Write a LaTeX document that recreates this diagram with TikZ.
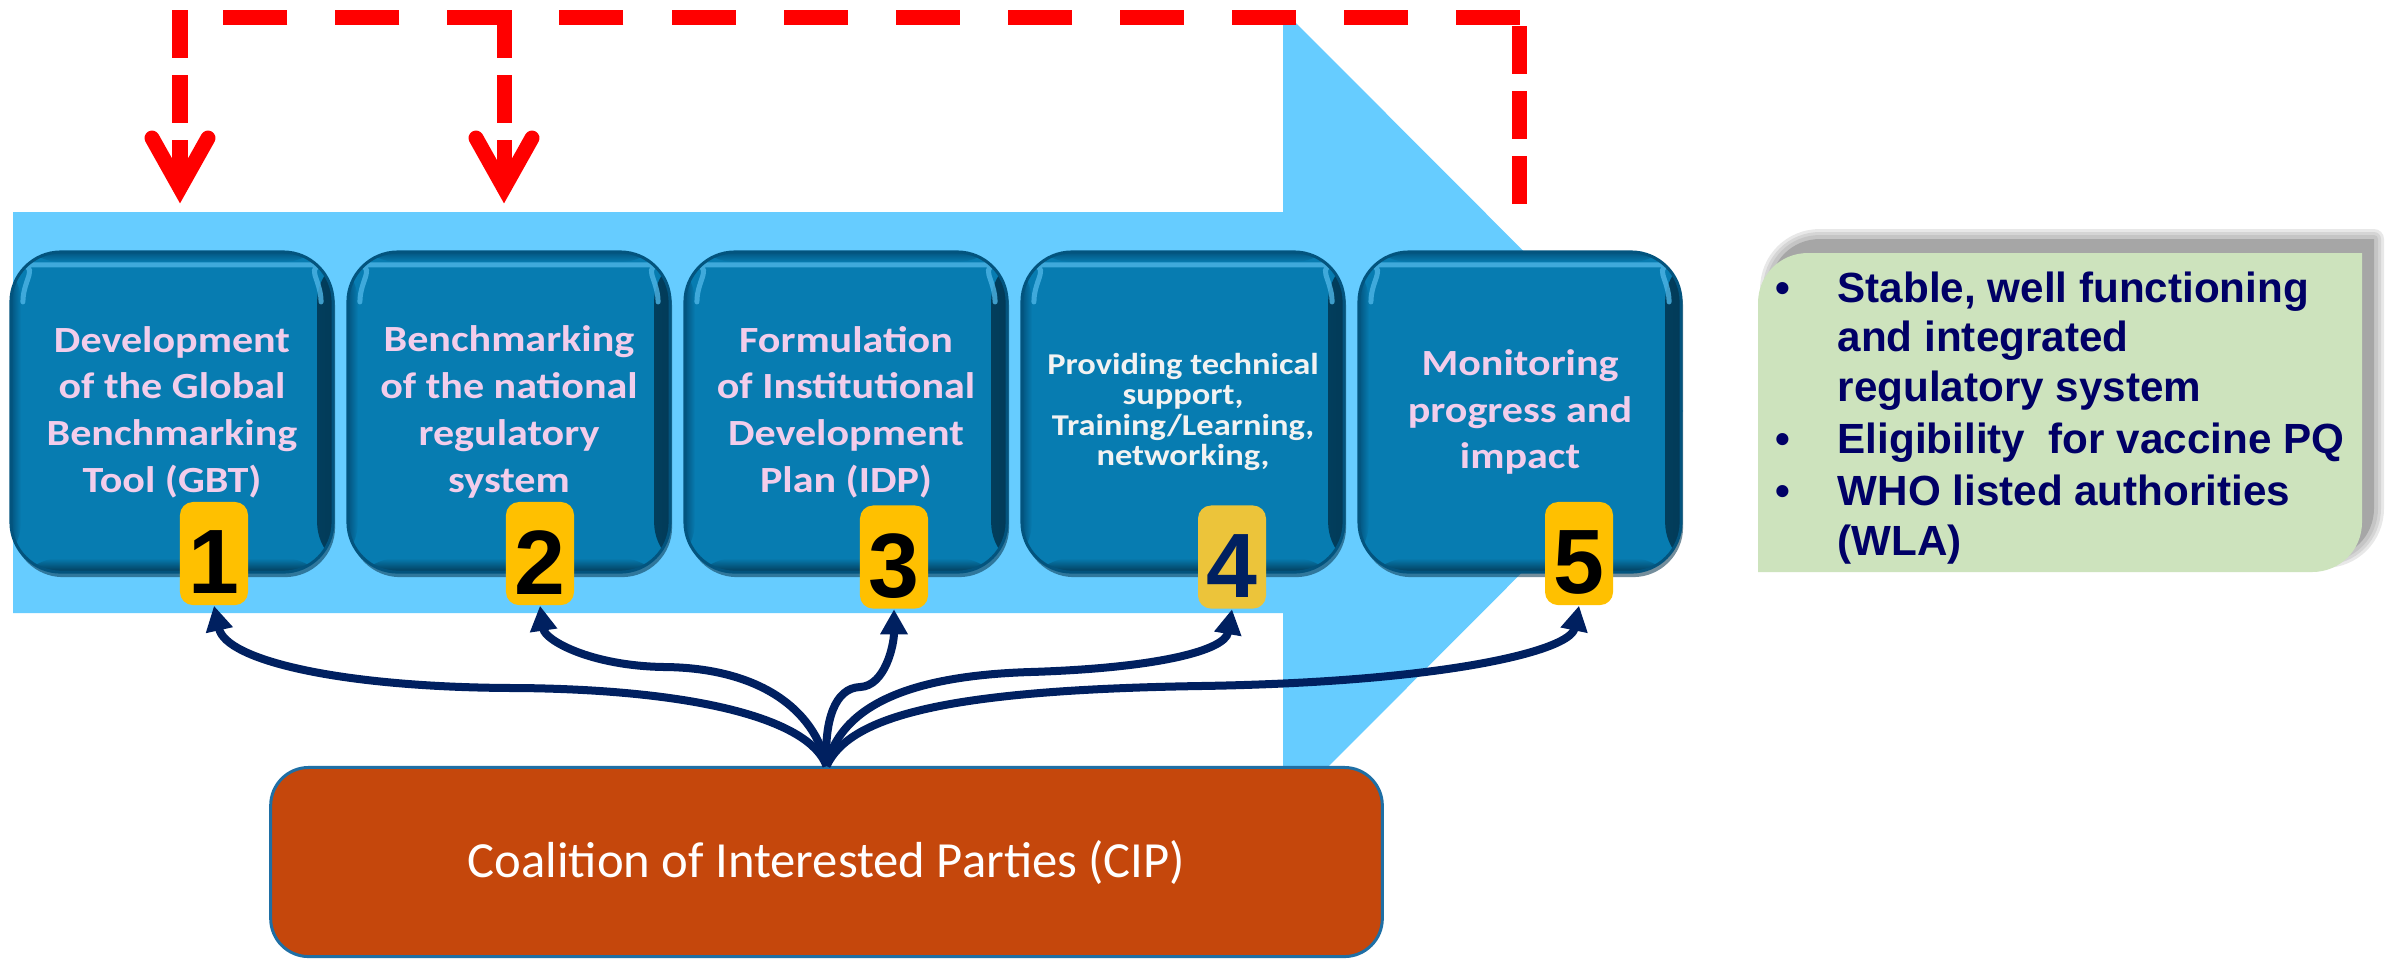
\documentclass[tikz,border=0pt]{standalone}
\usepackage{fontspec}
\setmainfont{Carlito}
\newfontfamily\panelfont[FakeStretch=1.14]{Carlito}
\newfontfamily\arialfont{Liberation Sans}
\usetikzlibrary{arrows.meta,calc}

\definecolor{flowblue}{HTML}{66CCFF}
\definecolor{tealmain}{HTML}{077CB1}
\definecolor{tealdark}{HTML}{03547E}
\definecolor{tealglow}{HTML}{4DB5E6}
\definecolor{pinktext}{HTML}{F2CDEB}
\definecolor{greytext}{HTML}{F2F2F2}
\definecolor{badgegold}{HTML}{FFC000}
\definecolor{badgemustard}{HTML}{ECC43A}
\definecolor{navy}{HTML}{002060}
\definecolor{cipfill}{HTML}{C5470C}
\definecolor{cipedge}{HTML}{1F6FA5}
\definecolor{greenfill}{HTML}{CDE3BD}
\definecolor{listnavy}{HTML}{000066}
\definecolor{alertred}{HTML}{FF0000}

\begin{document}
\begin{tikzpicture}[
  x=0.01cm, y=-0.01cm,
  redline/.style={draw=alertred, line width=0.15cm},
  longdash/.style={dash pattern=on 0.64cm off 0.48cm},
  shortdash/.style={dash pattern=on 0.48cm off 0.17cm},
  panel/.style={rectangle, rounded corners=0.5cm, minimum width=3.22cm, minimum height=3.2cm,
    inner sep=0pt, fill=tealmain, draw=tealdark, line width=0.03cm, align=center, text=pinktext,
    font=\panelfont\bfseries\fontsize{10.5pt}{13.3pt}\selectfont,
    preaction={fill=tealdark!60!black, opacity=0.55, transform canvas={shift={(0.02cm,-0.05cm)}}},
    path picture={
      \shade[left color=tealmain, right color=tealdark!70!black]
        ([xshift=-0.16cm]path picture bounding box.north east) rectangle (path picture bounding box.south east);
      \shade[left color=tealdark, right color=tealmain]
        (path picture bounding box.north west) rectangle ([xshift=0.1cm]path picture bounding box.south west);
      \shade[top color=tealmain, bottom color=tealdark!70!black]
        ([yshift=0.14cm]path picture bounding box.south west) rectangle (path picture bounding box.south east);
      \shade[top color=tealdark, bottom color=tealmain]
        (path picture bounding box.north west) rectangle ([yshift=-0.1cm]path picture bounding box.north east);
      \draw[tealglow, line width=0.05cm, opacity=0.8, line cap=round]
        ([xshift=0.12cm, yshift=-0.5cm]path picture bounding box.north west)
        .. controls ([xshift=0.12cm, yshift=-0.26cm]path picture bounding box.north west)
           and ([xshift=0.31cm, yshift=-0.13cm]path picture bounding box.north west)
        .. ([xshift=0.55cm, yshift=-0.13cm]path picture bounding box.north west)
        -- ([xshift=-0.55cm, yshift=-0.13cm]path picture bounding box.north east)
        .. controls ([xshift=-0.31cm, yshift=-0.13cm]path picture bounding box.north east)
           and ([xshift=-0.12cm, yshift=-0.26cm]path picture bounding box.north east)
        .. ([xshift=-0.12cm, yshift=-0.5cm]path picture bounding box.north east);
    }},
  smallpanel/.style={panel, text=greytext, font=\panelfont\bfseries\fontsize{8.6pt}{8.6pt}\selectfont},
  badge/.style={rectangle, rounded corners=0.13cm, minimum width=0.68cm, minimum height=1.03cm,
    inner sep=0pt, fill=badgegold},
  digit/.style={inner sep=0pt, text=black, font=\arialfont\bfseries\fontsize{26pt}{26pt}\selectfont},
  cipbox/.style={rectangle, rounded corners=0.38cm, minimum width=11.11cm, minimum height=1.89cm,
    fill=cipfill, draw=cipedge, line width=0.03cm, text=white, font=\fontsize{14.4pt}{16pt}\selectfont},
  link/.style={draw=navy, line width=0.08cm, -{Triangle[length=0.25cm, width=0.26cm]}},
  listtext/.style={inner sep=0pt, text=listnavy, font=\arialfont\bfseries\fontsize{12pt}{14pt}\selectfont},
]
\useasboundingbox (0,0) rectangle (2386,959);
\fill[white] (0,0) rectangle (2386,959);

% large process arrow behind the steps
\fill[flowblue] (13,212) -- (1283,212) -- (1283,10) -- (1683,411) -- (1283,812)
  -- (1283,613) -- (13,613) -- cycle;

% red dashed feedback loop
\coordinate (loopTopR) at (1520,17);
\coordinate (loopTopL) at (172,17);
\coordinate (loopL) at (180,10);
\coordinate (loopLtip) at (180,188);
\coordinate (loopM) at (504,10);
\coordinate (loopMtip) at (504,188);
\coordinate (loopR) at (1519,17);
\coordinate (loopRend) at (1519,204);
\draw[redline, longdash] (loopTopR) -- (loopTopL);
\draw[redline, shortdash] (loopL) -- (loopLtip);
\draw[redline, shortdash] (loopM) -- (loopMtip);
\draw[redline, shortdash] (loopRend) -- (loopR);
\draw[redline, line cap=round, line join=miter]
  ($(loopLtip)+(-28,-50)$) -- (loopLtip) -- ($(loopLtip)+(28,-50)$);
\draw[redline, line cap=round, line join=miter]
  ($(loopMtip)+(-28,-50)$) -- (loopMtip) -- ($(loopMtip)+(28,-50)$);

% the five steps
\node[panel] (p1) at (172,412) {Development\\of the Global\\Benchmarking\\Tool (GBT)};
\node[panel] (p2) at (509,412) {Benchmarking\\of the national\\regulatory\\system};
\node[panel] (p3) at (846,412) {Formulation\\of Institutional\\Development\\Plan (IDP)};
\node[smallpanel] (p4) at (1183,412) {Providing technical\\support,\\Training/Learning,\\networking,};
\node[panel] (p5) at (1520,412) {Monitoring\\progress and\\impact};

% step numbers
\node[badge] (n1) at (214,553.5) {};
\node[badge] (n2) at (540,553.5) {};
\node[badge] (n3) at (894,557) {};
\node[badge, fill=badgemustard] (n4) at (1232,557) {};
\node[badge] (n5) at (1579,553.5) {};
\node[digit] (d1) at ($(n1.center)+(0,9)$) {1};
\node[digit] (d2) at ($(n2.center)+(0,9)$) {2};
\node[digit] (d3) at ($(n3.center)+(0,9)$) {3};
\node[digit, text=navy] (d4) at ($(n4.center)+(0,9)$) {4};
\node[digit] (d5) at ($(n5.center)+(0,9)$) {5};

% coalition box
\node[cipbox] (cip) at (826.5,862) {Coalition of Interested Parties (CIP)};

% support links from the coalition to every step
\draw[link] (cip.north) .. controls (810,720) and (700,690) .. (520,688)
  .. controls (340,688) and (226,660) .. (n1.south);
\draw[link] (cip.north) .. controls (815,710) and (760,668) .. (665,667)
  .. controls (590,666) and (545,640) .. (n2.south);
\draw[link] (cip.north) .. controls (824,720) and (835,688) .. (860,687)
  .. controls (885,686) and (894,645) .. (n3.south);
\draw[link] (cip.north) .. controls (840,710) and (900,676) .. (1030,672)
  .. controls (1160,668) and (1225,650) .. (n4.south);
\draw[link] (cip.north) .. controls (850,715) and (950,690) .. (1200,686)
  .. controls (1450,682) and (1570,650) .. (n5.south);

% outcome box with soft shadow
\begin{scope}[shift={(12,-14)}]
  \foreach \w in {20,14,8}{
    \draw[gray, opacity=0.18, line width=\w*0.01cm, line join=round]
      (1758,572) -- (1758,303) .. controls (1758,275) and (1780,253) .. (1808,253)
      -- (2362,253) -- (2362,522) .. controls (2362,550) and (2340,572) .. (2312,572) -- cycle;
  }
  \fill[gray!70]
      (1758,572) -- (1758,303) .. controls (1758,275) and (1780,253) .. (1808,253)
      -- (2362,253) -- (2362,522) .. controls (2362,550) and (2340,572) .. (2312,572) -- cycle;
\end{scope}
\fill[greenfill]
  (1758,572) -- (1758,303) .. controls (1758,275) and (1780,253) .. (1808,253)
  -- (2362,253) -- (2362,522) .. controls (2362,550) and (2340,572) .. (2312,572) -- cycle;

\node[listtext, anchor=base] (b1) at (1783,302) {•};
\node[listtext, anchor=base] (b2) at (1783,453) {•};
\node[listtext, anchor=base] (b3) at (1783,505) {•};
\node[listtext, anchor=base west] (l1) at (1837,302) {Stable, well functioning};
\node[listtext, anchor=base west] (l2) at (1837,351) {and integrated};
\node[listtext, anchor=base west] (l3) at (1837,401) {regulatory system};
\node[listtext, anchor=base west] (l4) at (1837,453) {Eligibility\ \ for vaccine PQ};
\node[listtext, anchor=base west] (l5) at (1837,505) {WHO listed authorities};
\node[listtext, anchor=base west] (l6) at (1837,555) {(WLA)};
\end{tikzpicture}
\end{document}
